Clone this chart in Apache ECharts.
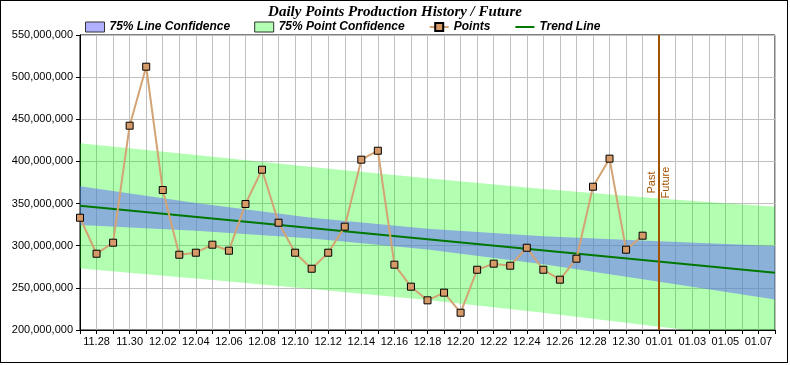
<!DOCTYPE html>
<html>
<head>
<meta charset="utf-8">
<script src="https://cdn.jsdelivr.net/npm/echarts@6/dist/echarts.min.js"></script>
<style>
html,body{margin:0;padding:0;background:#fff;}
#wrap{position:relative;width:790px;height:365px;}
#chart{position:absolute;left:0;top:0;width:790px;height:365px;}
#frame{position:absolute;left:0;top:0;width:788px;height:363px;border:1px solid #000;box-sizing:border-box;pointer-events:none;}
</style>
</head>
<body>
<div id="wrap"><div id="chart"></div><div id="frame"></div></div>
<script>
// ---- data (values in millions) ----
const dates = ['11.27','11.28','11.29','11.30','12.01','12.02','12.03','12.04','12.05','12.06','12.07','12.08','12.09','12.10','12.11','12.12','12.13','12.14','12.15','12.16','12.17','12.18','12.19','12.20','12.21','12.22','12.23','12.24','12.25','12.26','12.27','12.28','12.29','12.30','12.31','01.01','01.02','01.03','01.04','01.05','01.06','01.07','01.08'];
const points = [333.2, 290.5, 303.6, 442.4, 512.4, 366.1, 289.3, 291.7, 301.2, 294.1, 349.5, 390.2, 327.3, 291.7, 272.7, 291.7, 322.6, 402.1, 412.7, 277.5, 251.4, 235.2, 244.3, 220.5, 271.5, 278.7, 276.3, 297.6, 271.5, 259.7, 284.6, 370.0, 403.3, 295.3, 311.9];
const trendX = [0, 42];
const trendY = [347.5, 268.0];
const bandX = [0, 7, 14, 21, 28, 35, 42];
const lineUpper = [370.5, 350.8, 333.3, 320.2, 311.1, 305.3, 299.7];
const lineLower = [324.5, 317.8, 308.7, 295.4, 277.9, 257.3, 236.3];
const pointUpper = [421.5, 407.5, 393.3, 379.9, 367.4, 356.0, 346.3];
const pointLower = [273.0, 261.0, 248.5, 235.5, 220.5, 204.0, 188.0];
const yTicks = [200, 250, 300, 350, 400, 450, 500, 550];
const dividerDate = '01.01';
const titleText = 'Daily Points Production History / Future';
const names = ['75% Line Confidence', '75% Point Confidence', 'Points', 'Trend Line'];

// ---- build ----
const pairs = (xs, ys) => xs.map((x, i) => [x, ys[i]]);
const diffs = (xs, up, lo) => xs.map((x, i) => [x, +(up[i] - lo[i]).toFixed(2)]);

const chart = echarts.init(document.getElementById('chart'), null, {renderer: 'canvas'});
const bandBase = {
  type: 'line', symbol: 'none', silent: true, smooth: false,
  emphasis: {disabled: true}, animation: false
};
chart.setOption({
  animation: false,
  title: {
    text: titleText, left: 'center', top: 0,
    textStyle: {fontFamily: 'Liberation Serif', fontStyle: 'italic', fontWeight: 'bold', fontSize: 15, color: '#000'}
  },
  legend: {
    left: 85, top: 21, padding: 0, itemWidth: 19, itemHeight: 10, itemGap: 24,
    textStyle: {fontFamily: 'Liberation Sans', fontStyle: 'italic', fontWeight: 'bold', fontSize: 12, color: '#000'},
    data: [
      {name: names[0], icon: 'rect', itemStyle: {color: '#b0b0ff', borderColor: '#333', borderWidth: 1}},
      {name: names[1], icon: 'rect', itemStyle: {color: '#b3ffb3', borderColor: '#333', borderWidth: 1}},
      {name: names[2]},
      {name: names[3], itemStyle: {opacity: 0}, lineStyle: {opacity: 1, color: '#007800', width: 2}}
    ]
  },
  grid: {left: 80, top: 35, width: 695, height: 295, show: true, borderColor: '#000', borderWidth: 1, containLabel: false},
  xAxis: {
    type: 'category', data: dates, boundaryGap: false,
    axisLine: {show: true, lineStyle: {color: '#000', width: 1}},
    axisTick: {show: true, interval: 0, length: 4, lineStyle: {color: '#000'}},
    axisLabel: {
      interval: (i) => i % 2 === 1, margin: 6,
      fontFamily: 'Liberation Sans', fontSize: 11, color: '#000'
    },
    splitLine: {show: true, interval: 0, lineStyle: {color: '#c0c0c0', width: 1}}
  },
  yAxis: {
    type: 'value', min: yTicks[0], max: yTicks[yTicks.length - 1], interval: yTicks[1] - yTicks[0],
    axisLine: {show: true, lineStyle: {color: '#000', width: 1}},
    axisTick: {show: true, length: 4, lineStyle: {color: '#000'}},
    axisLabel: {
      margin: 7, fontFamily: 'Liberation Sans', fontSize: 11, color: '#000',
      formatter: (v) => (Math.round(v * 1e6)).toLocaleString('en-US')
    },
    splitLine: {show: true, lineStyle: {color: '#c0c0c0', width: 1}}
  },
  series: [
    Object.assign({}, bandBase, {
      name: 'pl_base', stack: 'pc', data: pairs(bandX, pointLower),
      lineStyle: {opacity: 0, width: 0}
    }),
    Object.assign({}, bandBase, {
      name: names[1], stack: 'pc', data: diffs(bandX, pointUpper, pointLower),
      lineStyle: {opacity: 0, width: 0}, itemStyle: {color: '#b3ffb3'},
      areaStyle: {color: 'rgba(0,255,0,0.3)', opacity: 1}
    }),
    Object.assign({}, bandBase, {
      name: 'll_base', stack: 'lc', data: pairs(bandX, lineLower),
      lineStyle: {opacity: 0, width: 0}
    }),
    Object.assign({}, bandBase, {
      name: names[0], stack: 'lc', data: diffs(bandX, lineUpper, lineLower),
      lineStyle: {opacity: 0, width: 0}, itemStyle: {color: '#b0b0ff'},
      areaStyle: {color: 'rgba(100,100,255,0.5)', opacity: 1}
    }),
    {
      name: names[3], type: 'line', data: pairs(trendX, trendY), symbol: 'none',
      lineStyle: {color: '#007800', width: 2}, itemStyle: {color: '#007800'},
      emphasis: {disabled: true}, z: 3,
      markLine: {
        silent: true, symbol: 'none', animation: false,
        lineStyle: {color: '#a35200', width: 2, type: 'solid'},
        label: {
          show: true, formatter: 'Past\nFuture', position: 'insideMiddle',
          fontFamily: 'Liberation Sans', fontSize: 11, lineHeight: 14, color: '#a35200'
        },
        data: [{xAxis: dividerDate}]
      }
    },
    {
      name: names[2], type: 'line', data: points, symbol: 'rect', symbolSize: 7,
      lineStyle: {color: '#d4a373', width: 2},
      itemStyle: {color: '#d69a68', borderColor: '#000', borderWidth: 1},
      emphasis: {disabled: true}, z: 4
    }
  ]
});
</script>
</body>
</html>
